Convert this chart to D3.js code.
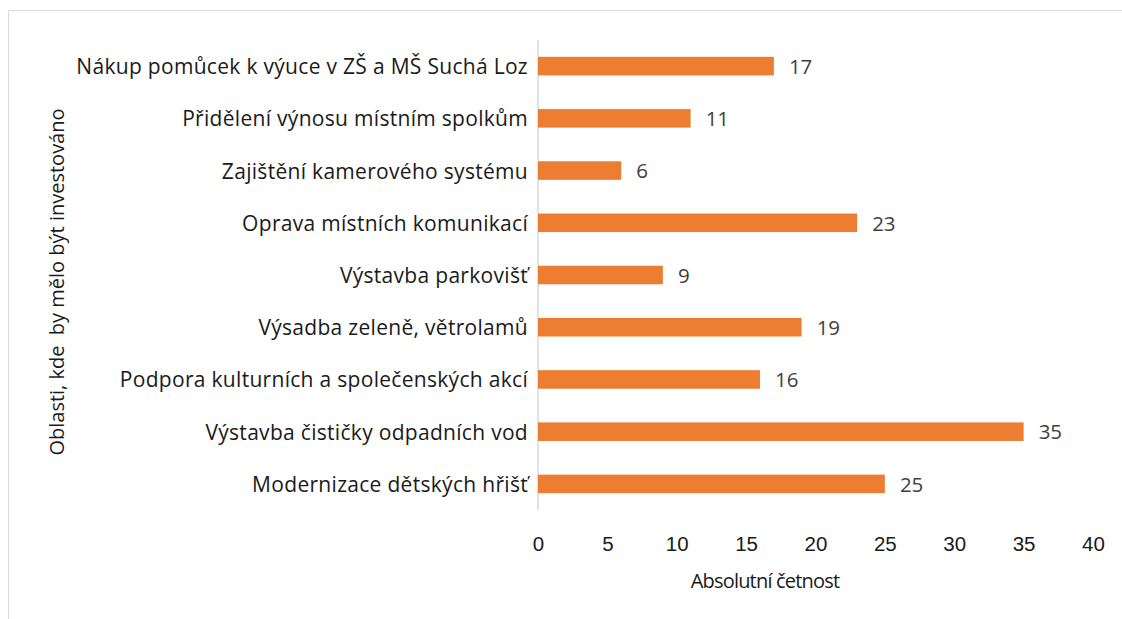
<!DOCTYPE html>
<html lang="cs">
<head>
<meta charset="utf-8">
<style>
    body { margin: 0; background: #fff; }
    svg { display: block; font-family: "Open Sans", sans-serif; }
    .cat { font-size: 21px; letter-spacing: 0.3px; fill: #1a1a1a; text-anchor: end; }
    .val { font-size: 20.5px; fill: #404040; }
    .tick text { font-size: 20.5px; fill: #1a1a1a; }
    .title { font-size: 20px; fill: #1a1a1a; text-anchor: middle; }
    .xtitle { letter-spacing: -0.8px; }
</style>
<script src="https://d3js.org/d3.v7.min.js"></script>
</head>
<body>
<svg width="1122" height="619"></svg>
<script>
    // categories from top to bottom
    var categories = [
        "Nákup pomůcek k výuce v ZŠ a MŠ Suchá Loz",
        "Přidělení výnosu místním spolkům",
        "Zajištění kamerového systému",
        "Oprava místních komunikací",
        "Výstavba parkovišť",
        "Výsadba zeleně, větrolamů",
        "Podpora kulturních a společenských akcí",
        "Výstavba čističky odpadních vod",
        "Modernizace dětských hřišť"
    ];
    var counts = [17, 11, 6, 23, 9, 19, 16, 35, 25];
    var xTicks = [0, 5, 10, 15, 20, 25, 30, 35, 40];

    var svg = d3.select("svg");

    // chart frame (only top and left edge visible in the crop)
    svg.append("path")
        .attr("d", "M8.5,619 V10.5 H1122")
        .attr("fill", "none")
        .attr("stroke", "#d9d9d9");

    var x = d3.scaleLinear().domain([0, 40]).range([538, 1093]);
    var y = d3.scaleBand().domain(categories).range([40, 510]).paddingInner(0.645).paddingOuter(0.3225);

    // x axis labels (no line, no ticks)
    var xAxis = svg.append("g")
        .attr("transform", "translate(0,536)")
        .call(d3.axisBottom(x).tickValues(xTicks).tickSize(0).tickPadding(0));
    xAxis.select(".domain").remove();
    xAxis.selectAll(".tick text").attr("dy", "0.71em");

    // vertical category axis line
    svg.append("line")
        .attr("x1", x(0)).attr("x2", x(0))
        .attr("y1", 40).attr("y2", 510)
        .attr("stroke", "#d9d9d9")
        .attr("stroke-width", 1.5);

    svg.selectAll(".bar")
        .data(counts)
        .enter().append("rect")
        .attr("class", "bar")
        .attr("x", x(0))
        .attr("y", function(d, i) { return y(categories[i]); })
        .attr("width", function(d) { return x(d) - x(0); })
        .attr("height", y.bandwidth())
        .attr("fill", "#ed7d31");

    svg.selectAll(".val")
        .data(counts)
        .enter().append("text")
        .attr("class", "val")
        .attr("x", function(d) { return x(d) + 15; })
        .attr("y", function(d, i) { return y(categories[i]) + y.bandwidth() / 2; })
        .attr("dy", "0.38em")
        .text(function(d) { return d; });

    svg.selectAll(".cat")
        .data(categories)
        .enter().append("text")
        .attr("class", "cat")
        .attr("x", x(0) - 10)
        .attr("y", function(d) { return y(d) + y.bandwidth() / 2; })
        .attr("dy", "0.38em")
        .text(function(d) { return d; });

    svg.append("text")
        .attr("class", "title xtitle")
        .attr("x", 765)
        .attr("y", 588)
        .text("Absolutní četnost");

    svg.append("text")
        .attr("class", "title")
        .attr("transform", "translate(64,282) rotate(-90)")
        .style("white-space", "pre")
        .text("Oblasti, kde  by mělo být investováno");
</script>
</body>
</html>
